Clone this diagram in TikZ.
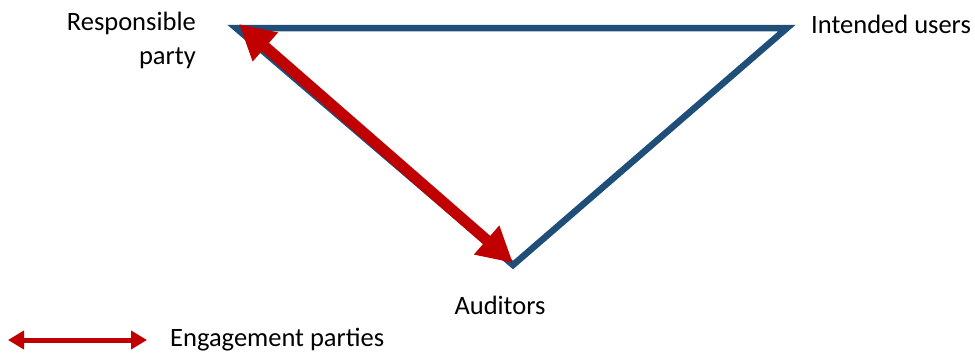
\documentclass[tikz,border=0pt]{standalone}
\usepackage{fontspec}
\setmainfont{Carlito}
\usepackage{tikz}
\usetikzlibrary{arrows.meta,positioning}

\definecolor{edgeblue}{HTML}{1F4E79}
\definecolor{partyred}{HTML}{C00000}

\tikzset{
  side/.style={draw=edgeblue,line width=6.5pt,line join=miter},
  engage/.style={draw=partyred,line width=11pt,
    {Triangle[length=35pt,width=36pt]}-{Triangle[length=35pt,width=36pt]}},
  legendarrow/.style={draw=partyred,line width=5pt,
    {Triangle[length=16pt,width=18pt]}-{Triangle[length=16pt,width=18pt]}},
  lbl/.style={font=\fontsize{26.5}{34}\selectfont,inner sep=0pt}
}

\begin{document}
\begin{tikzpicture}[x=1pt,y=-1pt]
    \useasboundingbox (0,0) rectangle (975,356);
    % triangle corners
    \coordinate (resp) at (236,28);
    \coordinate (users) at (787,28);
    \coordinate (aud) at (513,265);
    \draw[side] (resp) -- (users) -- (aud) -- cycle;
    % engagement between responsible party and auditors
    \coordinate (respTip) at (239,24);
    \coordinate (audTip) at (513,263);
    \draw[engage] (respTip) -- (audTip);
    % labels
    \node[lbl,align=right,anchor=base east] (respLbl) at (196,64) {Responsible\\party};
    \node[lbl,anchor=base west] (usersLbl) at (811,33) {Intended users};
    \node[lbl,anchor=base] (audLbl) at (500,314) {Auditors};
    % legend
    \coordinate (legA) at (8,340);
    \coordinate (legB) at (147,340);
    \draw[legendarrow] (legA) -- (legB);
    \node[lbl,anchor=base west] (legLbl) at (170,346) {Engagement parties};
\end{tikzpicture}
\end{document}
